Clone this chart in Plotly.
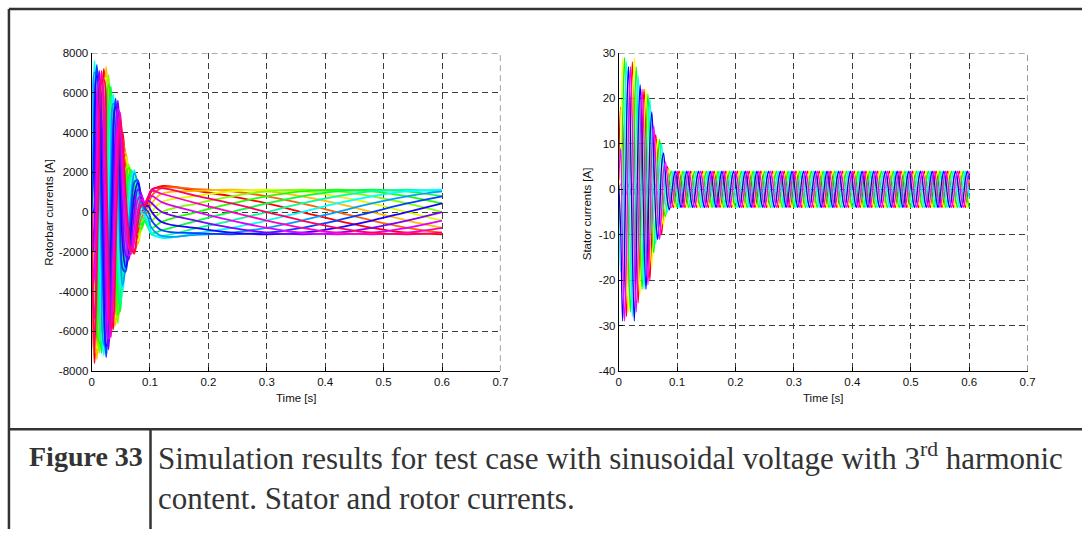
import plotly.graph_objects as go

W, H = 1090, 535

# ---------------- rotor bar currents (16 bars) ----------------
rotor_time = [0.000, 0.003, 0.005, 0.009, 0.013, 0.017, 0.021, 0.025, 0.029, 0.033,
              0.037, 0.041, 0.045, 0.049, 0.053, 0.058, 0.063, 0.068, 0.073, 0.079,
              0.085, 0.091, 0.097, 0.103, 0.12, 0.18, 0.24, 0.30, 0.36, 0.42,
              0.48, 0.54, 0.60]

# one row per time sample, one column per bar
rotor_rows = [
    [0] * 16,
    [-4805, -3676, -1992, 0, 1992, 3676, 4805, 5200, 4805, 3676, 1992, 0, -1992, -3676, -4805, -5200],
    [-7600, -7022, -5373, -2911, 0, 2911, 5373, 7022, 7600, 7022, 5373, 2911, 0, -2911, -5373, -7022],
    [-5232, -6838, -7400, -6838, -5232, -2834, 0, 2834, 5232, 6838, 7400, 6838, 5232, 2834, 0, -2834],
    [0, -2719, -5020, -6560, -7100, -6560, -5020, -2719, 0, 2719, 5020, 6560, 7100, 6560, 5020, 2719],
    [5020, 2719, 0, -2719, -5020, -6560, -7100, -6560, -5020, -2719, 0, 2719, 5020, 6560, 7100, 6560],
    [7200, 6653, 5090, 2758, 0, -2758, -5090, -6653, -7200, -6653, -5090, -2758, 0, 2758, 5090, 6653],
    [5161, 6745, 7300, 6745, 5161, 2796, 0, -2796, -5161, -6745, -7300, -6745, -5161, -2796, 0, 2796],
    [0, 2643, 4878, 6376, 6900, 6376, 4878, 2643, 0, -2643, -4878, -6376, -6900, -6376, -4878, -2643],
    [-4454, -2413, 0, 2413, 4454, 5821, 6300, 5821, 4454, 2413, 0, -2413, -4454, -5821, -6300, -5821],
    [-5900, -5452, -4171, -2260, 0, 2260, 4171, 5452, 5900, 5452, 4171, 2260, 0, -2260, -4171, -5452],
    [-4030, -5267, -5700, -5267, -4030, -2183, 0, 2183, 4030, 5267, 5700, 5267, 4030, 2183, 0, -2183],
    [0, -2145, -3959, -5174, -5600, -5174, -3959, -2145, 0, 2145, 3959, 5174, 5600, 5174, 3959, 2145],
    [3535, 1915, 0, -1915, -3535, -4620, -5000, -4620, -3535, -1915, 0, 1915, 3535, 4620, 5000, 4620],
    [4000, 3696, 2828, 1532, 0, -1532, -2828, -3696, -4000, -3696, -2828, -1532, 0, 1532, 2828, 3696],
    [2121, 2772, 3000, 2772, 2121, 1149, 0, -1149, -2121, -2772, -3000, -2772, -2121, -1149, 0, 1149],
    [0, 919, 1697, 2218, 2400, 2218, 1697, 919, 0, -919, -1697, -2218, -2400, -2218, -1697, -919],
    [-1485, -804, 0, 804, 1485, 1940, 2100, 1940, 1485, 804, 0, -804, -1485, -1940, -2100, -1940],
    [-2100, -1940, -1485, -804, 0, 804, 1485, 1940, 2100, 1940, 1485, 804, 0, -804, -1485, -1940],
    [-1131, -1478, -1600, -1478, -1131, -613, 0, 613, 1131, 1478, 1600, 1478, 1131, 613, 0, -613],
    [0, -345, -636, -832, -900, -832, -636, -345, 0, 345, 636, 832, 900, 832, 636, 345],
    [172, 0, -172, -318, -416, -450, -416, -318, -172, 0, 172, 318, 416, 450, 416, 318],
    [566, 306, 0, -306, -566, -739, -800, -739, -566, -306, 0, 306, 566, 739, 800, 739],
    [1063, 813, 440, 0, -440, -813, -1063, -1150, -1063, -813, -440, 0, 440, 813, 1063, 1150],
    [1300, 1201, 919, 498, 0, -498, -919, -1201, -1300, -1201, -919, -498, 0, 498, 919, 1201],
    [1063, 1150, 1063, 813, 440, 0, -440, -813, -1063, -1150, -1063, -813, -440, 0, 440, 813],
    [792, 1035, 1120, 1035, 792, 429, 0, -429, -792, -1035, -1120, -1035, -792, -429, 0, 429],
    [429, 792, 1035, 1120, 1035, 792, 429, 0, -429, -792, -1035, -1120, -1035, -792, -429, 0],
    [0, 429, 792, 1035, 1120, 1035, 792, 429, 0, -429, -792, -1035, -1120, -1035, -792, -429],
    [-429, 0, 429, 792, 1035, 1120, 1035, 792, 429, 0, -429, -792, -1035, -1120, -1035, -792],
    [-792, -429, 0, 429, 792, 1035, 1120, 1035, 792, 429, 0, -429, -792, -1035, -1120, -1035],
    [-1035, -792, -429, 0, 429, 792, 1035, 1120, 1035, 792, 429, 0, -429, -792, -1035, -1120],
    [-1120, -1035, -792, -429, 0, 429, 792, 1035, 1120, 1035, 792, 429, 0, -429, -792, -1035],
]

# ---------------- stator phase currents, sampled at 300 Hz ----------------
stator_rate = 300.0

stator_a = [1, 18, 14.5, -14.5, -28, -13.5, 13.5, 28, 14.5, -13.5, -25, -11.5, 11, 22, 11, -10.5,
            -20, -8.5, 7, 12, 5.5, -5.5, -10, -4, 3, 5, 2.25,
            -2, -4, -2, 2, 4, 2, -2, -4, -2, 2, 4, 2, -2, -4, -2, 2, 4, 2, -2, -4, -2, 2, 4, 2, -2, -4, -2, 2, 4, 2,
            -2, -4, -2, 2, 4, 2, -2, -4, -2, 2, 4, 2, -2, -4, -2, 2, 4, 2, -2, -4, -2, 2, 4, 2, -2, -4, -2, 2, 4, 2,
            -2, -4, -2, 2, 4, 2, -2, -4, -2, 2, 4, 2, -2, -4, -2, 2, 4, 2, -2, -4, -2, 2, 4, 2, -2, -4, -2, 2, 4, 2,
            -2, -4, -2, 2, 4, 2, -2, -4, -2, 2, 4, 2, -2, -4, -2, 2, 4, 2, -2, -4, -2, 2, 4, 2, -2, -4, -2, 2, 4, 2,
            -2, -4, -2, 2, 4, 2, -2, -4, -2, 2, 4, 2, -2, -4, -2, 2, 4, 2, -2, -4, -2, 2, 4, 2, -2, -4, -2, 2, 4, 2,
            -2, -4, -2, 2]
stator_b = [-1, 9, 29, 14.5, -14, -27, -13.5, 14, 29, 13.5, -12.5, -23, -11, 11, 22, 10.5,
            -10, -17, -7, 6, 11, 5.5, -5, -8, -3, 2.5, 4.5,
            2, -2, -4, -2, 2, 4, 2, -2, -4, -2, 2, 4, 2, -2, -4, -2, 2, 4, 2, -2, -4, -2, 2, 4, 2, -2, -4, -2, 2, 4,
            2, -2, -4, -2, 2, 4, 2, -2, -4, -2, 2, 4, 2, -2, -4, -2, 2, 4, 2, -2, -4, -2, 2, 4, 2, -2, -4, -2, 2, 4,
            2, -2, -4, -2, 2, 4, 2, -2, -4, -2, 2, 4, 2, -2, -4, -2, 2, 4, 2, -2, -4, -2, 2, 4, 2, -2, -4, -2, 2, 4,
            2, -2, -4, -2, 2, 4, 2, -2, -4, -2, 2, 4, 2, -2, -4, -2, 2, 4, 2, -2, -4, -2, 2, 4, 2, -2, -4, -2, 2, 4,
            2, -2, -4, -2, 2, 4, 2, -2, -4, -2, 2, 4, 2, -2, -4, -2, 2, 4, 2, -2, -4, -2, 2, 4, 2, -2, -4, -2, 2, 4,
            2, -2, -4, -2]
stator_c = [-2, -9, 14.5, 29, 14, -13.5, -27, -14, 14.5, 27, 12.5, -11.5, -22, -11, 11, 21,
            10, -8.5, -14, -6, 5.5, 11, 5, -4, -6, -2.5, 2.25,
            4, 2, -2, -4, -2, 2, 4, 2, -2, -4, -2, 2, 4, 2, -2, -4, -2, 2, 4, 2, -2, -4, -2, 2, 4, 2, -2, -4, -2, 2,
            4, 2, -2, -4, -2, 2, 4, 2, -2, -4, -2, 2, 4, 2, -2, -4, -2, 2, 4, 2, -2, -4, -2, 2, 4, 2, -2, -4, -2, 2,
            4, 2, -2, -4, -2, 2, 4, 2, -2, -4, -2, 2, 4, 2, -2, -4, -2, 2, 4, 2, -2, -4, -2, 2, 4, 2, -2, -4, -2, 2,
            4, 2, -2, -4, -2, 2, 4, 2, -2, -4, -2, 2, 4, 2, -2, -4, -2, 2, 4, 2, -2, -4, -2, 2, 4, 2, -2, -4, -2, 2,
            4, 2, -2, -4, -2, 2, 4, 2, -2, -4, -2, 2, 4, 2, -2, -4, -2, 2, 4, 2, -2, -4, -2, 2, 4, 2, -2, -4, -2, 2,
            4, 2, -2, -4]
stator_d = [-1, -18, -14.5, 14.5, 28, 13.5, -13.5, -28, -14.5, 13.5, 25, 11.5, -11, -22, -11, 10.5,
            20, 8.5, -7, -12, -5.5, 5.5, 10, 4, -3, -5, -2.25,
            2, 4, 2, -2, -4, -2, 2, 4, 2, -2, -4, -2, 2, 4, 2, -2, -4, -2, 2, 4, 2, -2, -4, -2, 2, 4, 2, -2, -4, -2,
            2, 4, 2, -2, -4, -2, 2, 4, 2, -2, -4, -2, 2, 4, 2, -2, -4, -2, 2, 4, 2, -2, -4, -2, 2, 4, 2, -2, -4, -2,
            2, 4, 2, -2, -4, -2, 2, 4, 2, -2, -4, -2, 2, 4, 2, -2, -4, -2, 2, 4, 2, -2, -4, -2, 2, 4, 2, -2, -4, -2,
            2, 4, 2, -2, -4, -2, 2, 4, 2, -2, -4, -2, 2, 4, 2, -2, -4, -2, 2, 4, 2, -2, -4, -2, 2, 4, 2, -2, -4, -2,
            2, 4, 2, -2, -4, -2, 2, 4, 2, -2, -4, -2, 2, 4, 2, -2, -4, -2, 2, 4, 2, -2, -4, -2, 2, 4, 2, -2, -4, -2,
            2, 4, 2, -2]
stator_e = [1, -9, -29, -14.5, 14, 27, 13.5, -14, -29, -13.5, 12.5, 23, 11, -11, -22, -10.5,
            10, 17, 7, -6, -11, -5.5, 5, 8, 3, -2.5, -4.5,
            -2, 2, 4, 2, -2, -4, -2, 2, 4, 2, -2, -4, -2, 2, 4, 2, -2, -4, -2, 2, 4, 2, -2, -4, -2, 2, 4, 2, -2, -4,
            -2, 2, 4, 2, -2, -4, -2, 2, 4, 2, -2, -4, -2, 2, 4, 2, -2, -4, -2, 2, 4, 2, -2, -4, -2, 2, 4, 2, -2, -4,
            -2, 2, 4, 2, -2, -4, -2, 2, 4, 2, -2, -4, -2, 2, 4, 2, -2, -4, -2, 2, 4, 2, -2, -4, -2, 2, 4, 2, -2, -4,
            -2, 2, 4, 2, -2, -4, -2, 2, 4, 2, -2, -4, -2, 2, 4, 2, -2, -4, -2, 2, 4, 2, -2, -4, -2, 2, 4, 2, -2, -4,
            -2, 2, 4, 2, -2, -4, -2, 2, 4, 2, -2, -4, -2, 2, 4, 2, -2, -4, -2, 2, 4, 2, -2, -4, -2, 2, 4, 2, -2, -4,
            -2, 2, 4, 2]
stator_f = [2, 9, -14.5, -29, -14, 13.5, 27, 14, -14.5, -27, -12.5, 11.5, 22, 11, -11, -21,
            -10, 8.5, 14, 6, -5.5, -11, -5, 4, 6, 2.5, -2.25,
            -4, -2, 2, 4, 2, -2, -4, -2, 2, 4, 2, -2, -4, -2, 2, 4, 2, -2, -4, -2, 2, 4, 2, -2, -4, -2, 2, 4, 2, -2,
            -4, -2, 2, 4, 2, -2, -4, -2, 2, 4, 2, -2, -4, -2, 2, 4, 2, -2, -4, -2, 2, 4, 2, -2, -4, -2, 2, 4, 2, -2,
            -4, -2, 2, 4, 2, -2, -4, -2, 2, 4, 2, -2, -4, -2, 2, 4, 2, -2, -4, -2, 2, 4, 2, -2, -4, -2, 2, 4, 2, -2,
            -4, -2, 2, 4, 2, -2, -4, -2, 2, 4, 2, -2, -4, -2, 2, 4, 2, -2, -4, -2, 2, 4, 2, -2, -4, -2, 2, 4, 2, -2,
            -4, -2, 2, 4, 2, -2, -4, -2, 2, 4, 2, -2, -4, -2, 2, 4, 2, -2, -4, -2, 2, 4, 2, -2, -4, -2, 2, 4, 2, -2,
            -4, -2, 2, 4]
# residual (zero-sequence) current
stator_zero = [0, 1.2, -1.2, 1.2, -1.2, 1.2, -1.2, 1.2, -1.2, 1.2, -1.2, 1.2, -1.2, 1.2, -1.2, 1.2,
               -1.2, 1.2, -1.2, 1.2, -1.2, 1.2, -1.2, 1.2, -1.2, 1.2, -1.2,
               0.6, -0.6, 0.6, -0.6, 0.6, -0.6, 0.6, -0.6, 0.6, -0.6, 0.6, -0.6, 0.6, -0.6, 0.6, -0.6,
               0.6, -0.6, 0.6, -0.6, 0.6, -0.6, 0.6, -0.6, 0.6, -0.6, 0.6, -0.6, 0.6, -0.6, 0.6, -0.6,
               0.6, -0.6, 0.6, -0.6, 0.6, -0.6, 0.6, -0.6, 0.6, -0.6, 0.6, -0.6, 0.6, -0.6, 0.6, -0.6,
               0.6, -0.6, 0.6, -0.6, 0.6, -0.6, 0.6, -0.6, 0.6, -0.6, 0.6, -0.6, 0.6, -0.6, 0.6, -0.6,
               0.6, -0.6, 0.6, -0.6, 0.6, -0.6, 0.6, -0.6, 0.6, -0.6, 0.6, -0.6, 0.6, -0.6, 0.6, -0.6,
               0.6, -0.6, 0.6, -0.6, 0.6, -0.6, 0.6, -0.6, 0.6, -0.6, 0.6, -0.6, 0.6, -0.6, 0.6, -0.6,
               0.6, -0.6, 0.6, -0.6, 0.6, -0.6, 0.6, -0.6, 0.6, -0.6, 0.6, -0.6, 0.6, -0.6, 0.6, -0.6,
               0.6, -0.6, 0.6, -0.6, 0.6, -0.6, 0.6, -0.6, 0.6, -0.6, 0.6, -0.6, 0.6, -0.6, 0.6, -0.6,
               0.6, -0.6, 0.6, -0.6, 0.6, -0.6, 0.6, -0.6, 0.6, -0.6, 0.6, -0.6, 0.6, -0.6, 0.6, -0.6,
               0.6, -0.6, 0.6, -0.6, 0.6, -0.6, 0.6, -0.6, 0.6, -0.6]

stator_phases = [stator_a, stator_b, stator_c, stator_d, stator_e, stator_f]

time_ticks = [0, 0.1, 0.2, 0.3, 0.4, 0.5, 0.6, 0.7]
time_labels = ["0", "0.1", "0.2", "0.3", "0.4", "0.5", "0.6", "0.7"]
rotor_ticks = [-8000, -6000, -4000, -2000, 0, 2000, 4000, 6000, 8000]
stator_ticks = [-40, -30, -20, -10, 0, 10, 20, 30]

caption_label = "Figure 33"
caption_line1 = "Simulation results for test case with sinusoidal voltage with 3<sup>rd</sup> harmonic"
caption_line2 = "content. Stator and rotor currents."


def px(x):
    return x / W


def py(y):
    return 1 - y / H


fig = go.Figure()

n_bars = len(rotor_rows[0])
for k in range(n_bars):
    fig.add_trace(go.Scatter(
        x=rotor_time, y=[row[k] for row in rotor_rows], mode="lines",
        line=dict(color=f"hsl({k * 360 / n_bars:.1f},100%,50%)", width=1.8,
                  shape="spline", smoothing=1.0),
        xaxis="x", yaxis="y", showlegend=False, hoverinfo="skip"))

fig.add_trace(go.Scatter(
    x=[n / stator_rate for n in range(len(stator_zero))], y=stator_zero, mode="lines",
    line=dict(color="#a49fc4", width=1.2, shape="spline"),
    xaxis="x2", yaxis="y2", showlegend=False, hoverinfo="skip"))
for m, phase in enumerate(stator_phases):
    fig.add_trace(go.Scatter(
        x=[n / stator_rate for n in range(len(phase))], y=phase, mode="lines",
        line=dict(color=f"hsl({m * 60},100%,50%)", width=1.3, shape="spline", smoothing=1.0),
        xaxis="x2", yaxis="y2", showlegend=False, hoverinfo="skip"))

grid_color = "#3c3c3c"
grid_dash = "6px,4px"
tick_font = dict(family="Liberation Sans, Arial, sans-serif", size=11.5, color="#111")
axis_common = dict(
    showgrid=True, gridcolor=grid_color, gridwidth=1, griddash=grid_dash,
    showline=True, linecolor="black", linewidth=1, mirror=False,
    ticks="inside", ticklen=4, tickcolor="black", tickwidth=1,
    zeroline=False, tickfont=tick_font, fixedrange=True,
)

y_dom = [py(373.5), py(48)]
fig.update_layout(
    width=W, height=H, autosize=False,
    margin=dict(l=0, r=0, t=0, b=0),
    paper_bgcolor="white", plot_bgcolor="white",
    xaxis=dict(domain=[px(89.5), px(502.5)], range=[0, 0.7], tickvals=time_ticks,
               ticktext=time_labels, anchor="y", **axis_common),
    yaxis=dict(domain=y_dom, range=[-8000, 8000], tickvals=rotor_ticks,
               ticktext=[str(v) for v in rotor_ticks], anchor="x", **axis_common),
    xaxis2=dict(domain=[px(622), px(1035)], range=[0, 0.7], tickvals=time_ticks,
                ticktext=time_labels, anchor="y2", **axis_common),
    yaxis2=dict(domain=y_dom, range=[-40, 30], tickvals=stator_ticks,
                ticktext=[str(v) for v in stator_ticks], anchor="x2", **axis_common),
)

label_font = dict(family="Liberation Sans, Arial, sans-serif", size=11.5, color="#111")
serif = "Liberation Serif, Times New Roman, serif"
annotations = [
    dict(text="Rotorbar currents [A]", x=px(47), y=py(211), textangle=-90, font=label_font),
    dict(text="Time [s]", x=px(296), y=py(401), font=label_font),
    dict(text="Stator currents [A]", x=px(590), y=py(213), textangle=-90, font=label_font),
    dict(text="Time [s]", x=px(828.5), y=py(401), font=label_font),
    dict(text=f"<b>{caption_label}</b>", x=px(24), y=py(461), xanchor="left",
         font=dict(family=serif, size=28, color="#333")),
    dict(text=caption_line1, x=px(155), y=py(461), xanchor="left",
         font=dict(family=serif, size=31, color="#333")),
    dict(text=caption_line2, x=px(155), y=py(504), xanchor="left",
         font=dict(family=serif, size=31, color="#333")),
]
for a in annotations:
    a.update(xref="paper", yref="paper", showarrow=False, yanchor="middle")
    a.setdefault("xanchor", "center")
fig.update_layout(annotations=annotations)

frame = dict(color="#333", width=2.5)
shapes = [
    dict(x0=px(6), x1=px(1090), y0=py(3), y1=py(3), xref="paper", yref="paper", line=frame),
    dict(x0=px(6), x1=px(6), y0=py(3), y1=py(535), xref="paper", yref="paper", line=frame),
    dict(x0=px(6), x1=px(1090), y0=py(433), y1=py(433), xref="paper", yref="paper", line=frame),
    dict(x0=px(149), x1=px(149), y0=py(433), y1=py(535), xref="paper", yref="paper", line=frame),
]
# grid lines along the upper and right edges of each panel
edge = dict(color=grid_color, width=1, dash=grid_dash)
for xr, yr, ylo, yhi in (("x", "y", -8000, 8000), ("x2", "y2", -40, 30)):
    shapes.append(dict(x0=0, x1=0.7, y0=yhi, y1=yhi, xref=xr, yref=yr, line=edge))
    shapes.append(dict(x0=0.7, x1=0.7, y0=ylo, y1=yhi, xref=xr, yref=yr, line=edge))
for s in shapes:
    s.update(type="line", layer="below")
fig.update_layout(shapes=shapes)

fig.write_html("out.html")
